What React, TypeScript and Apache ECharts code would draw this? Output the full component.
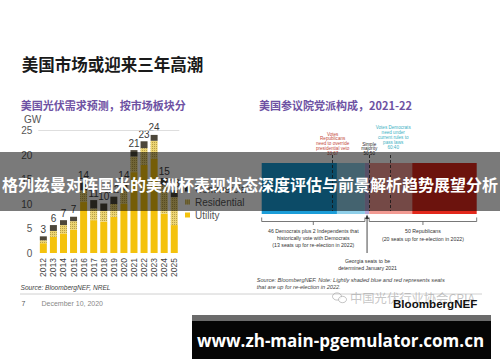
import React, { useEffect, useRef } from 'react';
import * as echarts from 'echarts';

// ---------- data ----------
const years = ['2012', '2013', '2014', '2015', '2016', '2017', '2018', '2019', '2020', '2021', '2022', '2023', '2024', '2025'];
const utilityGW = [2.0, 3.3, 4.0, 4.8, 10.4, 6.7, 6.4, 7.4, 10.0, 16.5, 18.0, 19.3, 8.0, 5.7];
const residentialGW = [0.6, 1.2, 1.7, 1.7, 2.4, 2.4, 2.2, 2.6, 2.8, 3.2, 3.4, 3.6, 5.8, 5.7];
const commercialGW = [0.8, 1.2, 1.0, 0.9, 1.6, 1.7, 1.5, 1.5, 1.6, 1.3, 1.4, 1.2, 1.5, 1.4];
const gwMin = 0;
const gwMax = 25;
const gwStep = 5;
const legendNames = ['Commercial', 'Residential', 'Utility'];

const senateCategory = ['Senate'];
const senateSegments = ['Democrats', 'Democrats up in 2022', 'Georgia', 'Republicans up in 2022', 'Republicans'];
const senateSeats = [35, 13, 2, 20, 30];
const voteThresholds = [33, 50, 60];

const LATIN = "'Liberation Sans', Arial, sans-serif";
const CJK = "'Noto Sans CJK SC', 'Noto Sans CJK JP', sans-serif";

const totals = years.map((_, i) => utilityGW[i] + residentialGW[i] + commercialGW[i]);
const senateColors = ['#1b9dd8', '#8fcfe9', '#b7a8d8', '#f29a92', '#e2281c'];

export default function App() {
  const ref = useRef<HTMLDivElement>(null);

  useEffect(() => {
    if (!ref.current) return;
    const chart = echarts.init(ref.current, null, { renderer: 'svg' });

    const senateSeries = senateSegments.map((name, i) => ({
      name,
      type: 'bar',
      stack: 'senate',
      xAxisIndex: 1,
      yAxisIndex: 1,
      barWidth: '100%',
      data: [senateSeats[i]],
      itemStyle: { color: senateColors[i] },
      ...(i === 0
        ? {
            markLine: {
              silent: true,
              symbol: ['none', 'none'],
              label: { show: false },
              lineStyle: { type: [3, 2], color: '#2a2a2a', width: 0.8 },
              data: voteThresholds.map((t) => [
                { coord: [t, senateCategory[0]], y: 155 },
                { coord: [t, senateCategory[0]], y: 211 },
              ]),
            },
          }
        : {}),
    }));

    chart.setOption({
      animation: false,
      backgroundColor: '#ffffff',
      textStyle: { fontFamily: LATIN },
      legend: {
        orient: 'vertical',
        left: 185,
        top: 183.5,
        padding: 0,
        itemWidth: 5,
        itemHeight: 5,
        itemGap: 2,
        icon: 'rect',
        selectedMode: false,
        data: legendNames,
        textStyle: { fontSize: 10, color: '#555', lineHeight: 11, fontFamily: LATIN },
      },
      grid: [
        { left: 38.3, top: 130.5, width: 141, height: 122.5 },
        { left: 261.7, top: 163, width: 215, height: 51 },
      ],
      xAxis: [
        {
          type: 'category',
          gridIndex: 0,
          data: years,
          axisLine: { show: false },
          axisTick: { show: false },
          axisLabel: { rotate: 90, fontSize: 8.5, color: '#444', margin: 5, interval: 0 },
        },
        { type: 'value', gridIndex: 1, min: 0, max: 100, show: false },
      ],
      yAxis: [
        {
          type: 'value',
          gridIndex: 0,
          min: gwMin,
          max: gwMax,
          interval: gwStep,
          splitLine: { show: false },
          axisLine: { show: false },
          axisTick: { show: false },
          axisLabel: { fontSize: 10, color: '#555', margin: 6 },
        },
        { type: 'category', gridIndex: 1, data: senateCategory, show: false },
      ],
      series: [
        {
          name: 'Utility',
          type: 'bar',
          stack: 'gw',
          barWidth: 7,
          data: utilityGW,
          itemStyle: { color: '#f4c20d' },
          markLine: {
            silent: true,
            symbol: ['none', 'none'],
            label: { show: false },
            lineStyle: { type: 'solid', color: '#d6d6d6', width: 0.8 },
            data: [{ yAxis: gwMax }],
          },
        },
        {
          name: 'Residential',
          type: 'bar',
          stack: 'gw',
          barWidth: 7,
          data: residentialGW,
          itemStyle: {
            color: '#ecd472',
            decal: {
              symbol: 'rect',
              symbolSize: 1,
              dashArrayX: [1, 1],
              dashArrayY: [1, 1],
              color: 'rgba(120,95,20,0.45)',
            },
          },
        },
        {
          name: 'Commercial',
          type: 'bar',
          stack: 'gw',
          barWidth: 7,
          data: commercialGW,
          itemStyle: { color: '#4d473a' },
          label: {
            show: true,
            position: 'top',
            distance: 2,
            fontSize: 10,
            color: '#3c3c3c',
            formatter: (p: any) => String(Math.round(totals[p.dataIndex])),
          },
        },
        ...senateSeries,
      ],
    });

    const px = (v: number) => chart.convertToPixel({ xAxisIndex: 1 } as any, v) as unknown as number;
    const demEnd = senateSeats[0] + senateSeats[1];
    const gaEnd = demEnd + senateSeats[2];
    const allEnd = senateSeats.reduce((a, b) => a + b, 0);
    const x0 = px(0);
    const xDem = px(demEnd);
    const xGa = px(gaEnd);
    const xEnd = px(allEnd);
    const xGaMid = px((demEnd + gaEnd) / 2);
    const xT = voteThresholds.map((t) => px(t));
    const leftMid = (x0 + xDem) / 2;
    const rightMid = (xGa + xEnd) / 2;

    const txt = (x: number, y: number, text: string, o: any = {}) => ({
      type: 'text',
      x,
      y,
      z: o.z ?? 10,
      style: {
        text,
        fill: o.fill ?? '#333',
        fontSize: o.fontSize ?? 10,
        fontFamily: o.fontFamily ?? LATIN,
        fontWeight: o.fontWeight ?? 'normal',
        fontStyle: o.fontStyle ?? 'normal',
        align: o.align ?? 'left',
        verticalAlign: o.verticalAlign ?? 'middle',
        lineHeight: o.lineHeight,
      },
    });

    const bracket = (a: number, b: number, mid: number) => [
      {
        type: 'polyline',
        z: 10,
        shape: { points: [[a, 217.5], [a, 221.5], [b, 221.5], [b, 217.5]] },
        style: { stroke: '#555', lineWidth: 0.8, fill: 'none' },
      },
      {
        type: 'line',
        z: 10,
        shape: { x1: mid, y1: 221.5, x2: mid, y2: 225 },
        style: { stroke: '#555', lineWidth: 0.8 },
      },
    ];

    const graphic: any[] = [
      txt(21.7, 64, '美国市场或迎来三年高潮', { fontSize: 16.5, fontWeight: 'bold', fontFamily: CJK, fill: '#1a1a1a' }),
      txt(20.7, 104.5, '美国光伏需求预测，按市场板块分', { fontSize: 11, fontWeight: 'bold', fontFamily: CJK, fill: '#6e52a3' }),
      txt(259, 105, '美国参议院党派构成，2021-22', { fontSize: 11, fontWeight: 'bold', fontFamily: CJK, fill: '#6e52a3' }),
      txt(24, 119, 'GW', { fontSize: 10, fill: '#555' }),
      txt(20.5, 287.5, 'Source: BloombergNEF, NREL', { fontSize: 6.6, fill: '#444', fontStyle: 'italic' }),
      // senate annotations
      txt(xT[0], 131.6, 'Votes\nRepublicans\nneed to override\npresidential veto\n33:67', {
        fontSize: 4.6, lineHeight: 4.8, align: 'center', verticalAlign: 'top', fill: '#c44a40',
      }),
      txt(xT[1], 141.6, 'Simple\nmajority\n50:50', {
        fontSize: 4.6, lineHeight: 4.8, align: 'center', verticalAlign: 'top', fill: '#2a2a2a',
      }),
      txt(xT[2] + 2.5, 124.5, 'Votes Democrats\nneed under\ncurrent rules to\npass laws\n60:40', {
        fontSize: 4.6, lineHeight: 5.2, align: 'center', verticalAlign: 'top', fill: '#3cb2c4',
      }),
      ...bracket(x0, xDem, leftMid),
      ...bracket(xGa, xEnd, rightMid),
      {
        type: 'line',
        z: 10,
        shape: { x1: xGaMid, y1: 253, x2: xGaMid, y2: 217 },
        style: { stroke: '#333', lineWidth: 0.9 },
      },
      {
        type: 'polygon',
        z: 10,
        shape: { points: [[xGaMid - 2, 219], [xGaMid + 2, 219], [xGaMid, 214.5]] },
        style: { fill: '#333' },
      },
      txt(leftMid, 231, '46 Democrats plus 2 Independents that', { fontSize: 5.2, align: 'center', fill: '#333' }),
      txt(leftMid, 237.5, 'historically vote with Democrats', { fontSize: 5.2, align: 'center', fill: '#333' }),
      txt(leftMid, 245, '(13 seats up for re-election in 2022)', { fontSize: 5.2, align: 'center', fill: '#333' }),
      txt(rightMid, 231, '50 Republicans', { fontSize: 5.2, align: 'center', fill: '#333' }),
      txt(rightMid, 239.3, '(20 seats up for re-election in 2022)', { fontSize: 5.2, align: 'center', fill: '#333' }),
      txt(xGaMid + 0.5, 261, 'Georgia seats to be', { fontSize: 5.2, align: 'center', fill: '#333' }),
      txt(xGaMid + 0.5, 268.3, 'determined January 2021', { fontSize: 5.2, align: 'center', fill: '#333' }),
      txt(256.7, 280, 'Source: BloombergNEF. Note: Lightly shaded blue and red represents seats', {
        fontSize: 5.6, fontStyle: 'italic', fill: '#444',
      }),
      txt(256.7, 286.7, 'that are up for re-election in 2022.', { fontSize: 5.6, fontStyle: 'italic', fill: '#444' }),
      // footer
      {
        type: 'line',
        z: 10,
        shape: { x1: 20, y1: 294, x2: 482, y2: 294 },
        style: { stroke: '#c4c4c4', lineWidth: 0.8 },
      },
      txt(21.5, 303, '7', { fontSize: 7, fill: '#555' }),
      txt(41.5, 303, 'December 10, 2020', { fontSize: 7, fill: '#888' }),
      {
        type: 'ellipse',
        z: 11,
        shape: { cx: 337, cy: 296.5, rx: 4.5, ry: 3.6 },
        style: { stroke: 'rgba(150,150,150,0.7)', lineWidth: 0.8, fill: 'none' },
      },
      {
        type: 'ellipse',
        z: 11,
        shape: { cx: 342.5, cy: 299.5, rx: 4, ry: 3.2 },
        style: { stroke: 'rgba(150,150,150,0.7)', lineWidth: 0.8, fill: 'rgba(255,255,255,0.8)' },
      },
      txt(350, 297.5, '中国光伏行业协会CPIA', { fontSize: 12.3, fontFamily: CJK, fill: 'rgba(160,160,160,0.6)', z: 11 }),
      txt(393, 303.5, 'BloombergNEF', { fontSize: 11.6, fontWeight: 'bold', fill: '#111', z: 12 }),
      // overlay banner
      {
        type: 'rect',
        z: 100,
        shape: { x: 0, y: 152, width: 500, height: 59 },
        style: { fill: 'rgba(0,0,0,0.52)' },
      },
      txt(250, 184, '格列兹曼对阵国米的美洲杯表现状态深度评估与前景解析趋势展望分析', {
        fontSize: 16, fontWeight: 'bold', fontFamily: CJK, fill: '#ffffff', align: 'center', z: 101,
      }),
      // bottom url box
      {
        type: 'rect',
        z: 100,
        shape: { x: 192, y: 315, width: 299, height: 6.5 },
        style: { fill: '#6b6b6b' },
      },
      {
        type: 'rect',
        z: 100,
        shape: { x: 192, y: 321, width: 299, height: 38 },
        style: { fill: '#050505' },
      },
      txt(340.5, 340, 'www.zh-main-pgemulator.com.cn', {
        fontSize: 17, fontWeight: 'bold', fontFamily: "'Open Sans', 'Noto Sans', sans-serif", fill: '#ffffff', align: 'center', z: 101,
      }),
    ];

    chart.setOption({ graphic });

    return () => chart.dispose();
  }, []);

  return <div ref={ref} style={{ position: 'fixed', left: 0, top: 0, width: 500, height: 362 }} />;
}
